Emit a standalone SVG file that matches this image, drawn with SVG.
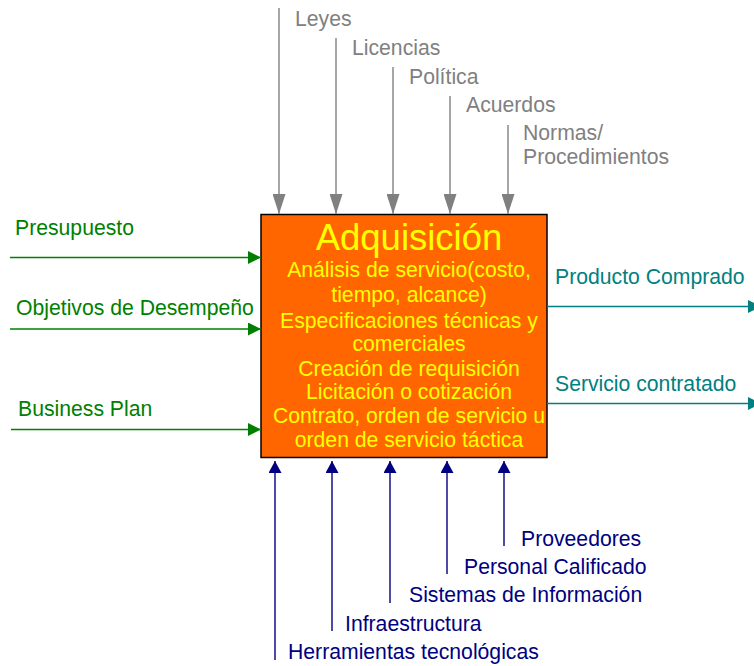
<svg xmlns="http://www.w3.org/2000/svg" width="754" height="666" viewBox="0 0 754 666">
<style>
text{font-family:"Liberation Sans",Arial,sans-serif;font-size:21.2px}
.g{fill:#808080}.gr{fill:#008000}.t{fill:#008080}.n{fill:#000080}
.box text{fill:#FFFF00;text-anchor:middle}
.lg{stroke:#808080;stroke-width:1.4;fill:none}
.lgr{stroke:#008000;stroke-width:1.4;fill:none}
.lt{stroke:#008080;stroke-width:1.6;fill:none}
.ln{stroke:#000080;stroke-width:1.4;fill:none}
</style>
<defs>
<marker id="mg" markerUnits="userSpaceOnUse" markerWidth="20" markerHeight="13" viewBox="0 0 20 13" refX="20" refY="6.5" orient="auto"><path d="M0,0L20,6.5L0,13z" fill="#808080"/></marker>
<marker id="mgr" markerUnits="userSpaceOnUse" markerWidth="13" markerHeight="13" viewBox="0 0 13 13" refX="13" refY="6.5" orient="auto"><path d="M0,0L13,6.5L0,13z" fill="#008000"/></marker>
<marker id="mt" markerUnits="userSpaceOnUse" markerWidth="13" markerHeight="13" viewBox="0 0 13 13" refX="13" refY="6.5" orient="auto"><path d="M0,0L13,6.5L0,13z" fill="#008080"/></marker>
<marker id="mn" markerUnits="userSpaceOnUse" markerWidth="12" markerHeight="13" viewBox="0 0 12 13" refX="12" refY="6.5" orient="auto"><path d="M0,0L12,6.5L0,13z" fill="#000080"/></marker>
</defs>
<g id="node-adquisicion" class="box">
<rect x="261" y="214.5" width="286" height="243" fill="#FF6600" stroke="#000" stroke-width="1.5"/>
<text x="409" y="250" style="font-size:36.5px">Adquisición</text>
<text x="409" y="277">Análisis de servicio(costo,</text>
<text x="409" y="302">tiempo, alcance)</text>
<text x="409" y="328">Especificaciones técnicas y</text>
<text x="409" y="351">comerciales</text>
<text x="409" y="376">Creación de requisición</text>
<text x="409" y="399">Licitación o cotización</text>
<text x="409" y="423">Contrato, orden de servicio u</text>
<text x="409" y="447">orden de servicio táctica</text>
</g>
<g id="connectors">
<line class="lg" x1="279" y1="8" x2="279" y2="214" marker-end="url(#mg)"/>
<line class="lg" x1="336" y1="38" x2="336" y2="214" marker-end="url(#mg)"/>
<line class="lg" x1="393" y1="67" x2="393" y2="214" marker-end="url(#mg)"/>
<line class="lg" x1="450" y1="96" x2="450" y2="214" marker-end="url(#mg)"/>
<line class="lg" x1="508" y1="125" x2="508" y2="214" marker-end="url(#mg)"/>
<line class="lgr" x1="10" y1="257.5" x2="261" y2="257.5" marker-end="url(#mgr)"/>
<line class="lgr" x1="10" y1="329" x2="261" y2="329" marker-end="url(#mgr)"/>
<line class="lgr" x1="11" y1="429.5" x2="261" y2="429.5" marker-end="url(#mgr)"/>
<line class="lt" x1="547" y1="306.5" x2="761" y2="306.5" marker-end="url(#mt)"/>
<line class="lt" x1="547" y1="403.5" x2="761" y2="403.5" marker-end="url(#mt)"/>
<line class="ln" x1="275" y1="660" x2="275" y2="461" marker-end="url(#mn)"/>
<line class="ln" x1="332" y1="631" x2="332" y2="461" marker-end="url(#mn)"/>
<line class="ln" x1="390" y1="603" x2="390" y2="461" marker-end="url(#mn)"/>
<line class="ln" x1="447" y1="574" x2="447" y2="461" marker-end="url(#mn)"/>
<line class="ln" x1="504" y1="546" x2="504" y2="461" marker-end="url(#mn)"/>
</g>
<g id="labels-control">
<text class="g" x="295" y="26">Leyes</text>
<text class="g" x="352" y="55">Licencias</text>
<text class="g" x="409" y="84">Política</text>
<text class="g" x="466" y="112">Acuerdos</text>
<text class="g" x="523" y="140">Normas/</text>
<text class="g" x="523" y="164">Procedimientos</text>
</g>
<g id="labels-input">
<text class="gr" x="15" y="235">Presupuesto</text>
<text class="gr" x="16" y="315">Objetivos de Desempeño</text>
<text class="gr" x="18" y="416">Business Plan</text>
</g>
<g id="labels-output">
<text class="t" x="555" y="284">Producto Comprado</text>
<text class="t" x="555" y="391">Servicio contratado</text>
</g>
<g id="labels-mechanism">
<text class="n" x="521" y="546">Proveedores</text>
<text class="n" x="464" y="574">Personal Calificado</text>
<text class="n" x="409" y="602">Sistemas de Información</text>
<text class="n" x="345" y="631">Infraestructura</text>
<text class="n" x="288" y="659">Herramientas tecnológicas</text>
</g>
</svg>
